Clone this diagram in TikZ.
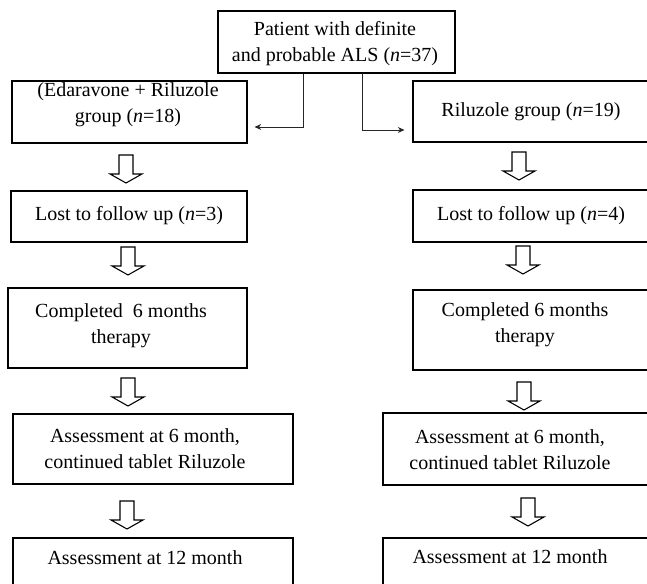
\documentclass[tikz,border=0pt]{standalone}
\usepackage{fontspec}
\setmainfont{Liberation Serif}
\usetikzlibrary{arrows.meta,calc}
\newcommand{\pxu}{0.75pt}
\newcommand{\flowfont}{\fontsize{15}{19.5}\selectfont}
\tikzset{
	flowbox/.style={draw, line width=0.8pt, inner sep=0pt},
	flowtext/.style={inner sep=0pt, align=center, font=\flowfont},
	link/.style={line width=0.6pt, color=black!85, -{Stealth[length=5pt,width=4.5pt]}},
	blockdown/.pic={\draw[line width=0.8pt] (-7,0) -- (-7,-19) -- (-16,-19) -- (0,-28) -- (16,-19) -- (7,-19) -- (7,0) -- cycle;}
}
\begin{document}
\begin{tikzpicture}[x=0.75pt,y=0.75pt,yscale=-1,xscale=1]
	\useasboundingbox (0,0) rectangle (647,584);
	
	%Boxes
	\node[flowbox, minimum width=237*\pxu, minimum height=62*\pxu] (top) at (336.5,42) {};
	\node[flowbox, minimum width=235*\pxu, minimum height=62*\pxu] (l1) at (129.5,112) {};
	\node[flowbox, minimum width=237*\pxu, minimum height=61*\pxu] (r1) at (531.5,111.5) {};
	\node[flowbox, minimum width=236*\pxu, minimum height=51*\pxu] (l2) at (129,216.5) {};
	\node[flowbox, minimum width=237*\pxu, minimum height=52*\pxu] (r2) at (531.5,216) {};
	\node[flowbox, minimum width=239*\pxu, minimum height=80*\pxu] (l3) at (127.5,328) {};
	\node[flowbox, minimum width=237*\pxu, minimum height=80*\pxu] (r3) at (531.5,330) {};
	\node[flowbox, minimum width=280*\pxu, minimum height=70*\pxu] (l4) at (153,449) {};
	\node[flowbox, minimum width=267*\pxu, minimum height=72*\pxu] (r4) at (516.5,449) {};
	\node[flowbox, minimum width=280*\pxu, minimum height=72*\pxu] (l5) at (153,574) {};
	\node[flowbox, minimum width=267*\pxu, minimum height=72*\pxu] (r5) at (516.5,574) {};
	
	%Split lines
	\draw[link] ($(top.south)+(-33.5,0)$) |- ($(l1.east)+(7,15)$);
	\draw[link] ($(top.south)+(25.5,0)$) |- ($(r1.west)+(-8,18.5)$);
	
	%Block arrows
	\pic (la1) at (126,155) {blockdown};
	\pic (la2) at (128,247) {blockdown};
	\pic (la3) at (128,378) {blockdown};
	\pic (la4) at (127,501) {blockdown};
	\pic (ra1) at (519,152) {blockdown};
	\pic (ra2) at (523,246) {blockdown};
	\pic (ra3) at (524,382) {blockdown};
	\pic (ra4) at (528,498) {blockdown};
	
	% Text Node
	\node[flowtext] (toptext) at (335,44) {Patient with definite\\and probable ALS (\textit{n}=37)};
	% Text Node
	\node[flowtext] (l1text) at (128,105) {(Edaravone + Riluzole\\group (\textit{n}=18)};
	% Text Node
	\node[flowtext] (r1text) at (531,112) {Riluzole group (\textit{n}=19)};
	% Text Node
	\node[flowtext] (l2text) at (129,216) {Lost to follow up (\textit{n}=3)};
	% Text Node
	\node[flowtext] (r2text) at (531,216) {Lost to follow up (\textit{n}=4)};
	% Text Node
	\node[flowtext] (l3text) at (121,326) {Completed~ 6 months\\therapy};
	% Text Node
	\node[flowtext] (r3text) at (525,324.5) {Completed 6 months\\therapy};
	% Text Node
	\node[flowtext] (l4text) at (145,448.5) {Assessment at 6 month,\\continued tablet Riluzole};
	% Text Node
	\node[flowtext] (r4text) at (510,450) {Assessment at 6 month,\\continued tablet Riluzole};
	% Text Node
	\node[flowtext] (l5text) at (145,558) {Assessment at 12 month};
	% Text Node
	\node[flowtext] (r5text) at (510,557) {Assessment at 12 month};
	
\end{tikzpicture}
\end{document}
